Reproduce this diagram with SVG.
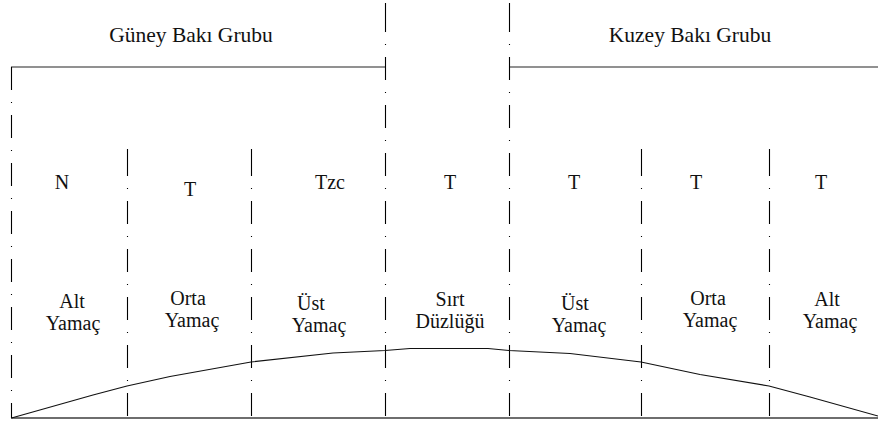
<svg xmlns="http://www.w3.org/2000/svg" width="878" height="427" viewBox="0 0 878 427">
<style>
.t{font-family:'Liberation Serif',serif;font-size:20px;fill:#111;text-anchor:middle}
.h{font-size:21.5px}
.dd{stroke:#000;stroke-width:1.1;fill:none;stroke-dasharray:23 12 1 12}
.gl{stroke:#6e6e6e;fill:none}
.sl{stroke:#111;stroke-width:1.1;fill:none;stroke-linejoin:round}
</style>
<rect width="878" height="427" fill="#fff"/>
<g id="headers">
<g id="guney"><text class="t h" x="191" y="42">Güney Bakı Grubu</text></g>
<g id="kuzey"><text class="t h" x="690" y="42">Kuzey Bakı Grubu</text></g>
</g>
<g id="brackets">
<path class="gl" stroke-width="1.6" d="M11 67H386M509 67H878"/>
<path class="gl" stroke-width="2" d="M11 418H878"/>
</g>
<g id="dividers">
<path class="dd" d="M11.5 67V418"/>
<path class="dd" stroke-dashoffset="-4" d="M127.5 149V418M251.5 149V418M641.5 149V418M769.5 149V418"/>
<path class="dd" stroke-dashoffset="39" d="M385.5 0V418M509.5 0V418"/>
<path class="dd" stroke-dasharray="none" d="M385.5 3V9M509.5 3V9M127.5 149V153M251.5 149V153M641.5 149V153M769.5 149V153"/>
</g>
<g id="slope">
<path class="sl" d="M11.5 418L93 395L127 386L170 376.5L251 362L333 353L385 350.5L410 348.5L488 348.5L509 350.5L570 353.5L641 362L700 374.5L769 386L810 397L878 416"/>
</g>
<g id="columns">
<g id="col1"><text class="t" x="62" y="189">N</text><text class="t" x="72" y="308">Alt</text><text class="t" x="73" y="330">Yamaç</text></g>
<g id="col2"><text class="t" x="190" y="196">T</text><text class="t" x="188" y="305">Orta</text><text class="t" x="192" y="327">Yamaç</text></g>
<g id="col3"><text class="t" x="330" y="189">Tzc</text><text class="t" x="311" y="310">Üst</text><text class="t" x="319" y="332">Yamaç</text></g>
<g id="col4"><text class="t" x="450" y="189">T</text><text class="t" x="450" y="306">Sırt</text><text class="t" x="450" y="328">Düzlüğü</text></g>
<g id="col5"><text class="t" x="574" y="189">T</text><text class="t" x="575" y="310">Üst</text><text class="t" x="579" y="332">Yamaç</text></g>
<g id="col6"><text class="t" x="696" y="189">T</text><text class="t" x="708" y="305">Orta</text><text class="t" x="710" y="327">Yamaç</text></g>
<g id="col7"><text class="t" x="821" y="189">T</text><text class="t" x="827" y="306">Alt</text><text class="t" x="830" y="328">Yamaç</text></g>
</g>
</svg>
